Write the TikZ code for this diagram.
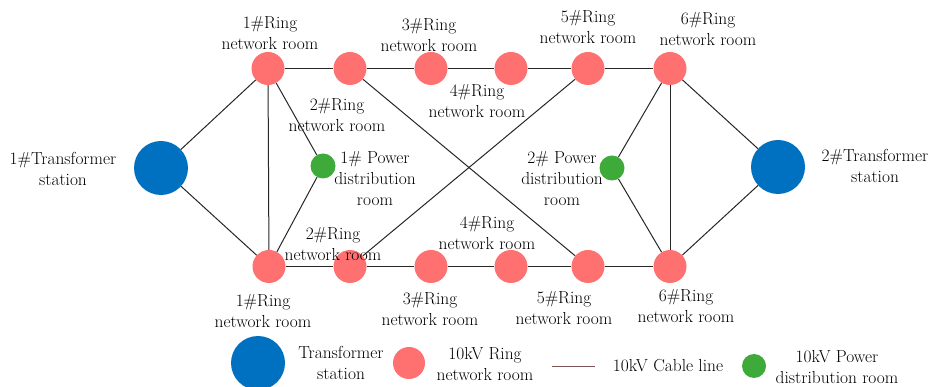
\documentclass[tikz,border=0pt]{standalone}
\definecolor{transc}{RGB}{0,112,192}
\definecolor{ringc}{RGB}{255,112,112}
\definecolor{pdc}{RGB}{62,170,58}
\definecolor{legline}{RGB}{125,85,85}
\begin{document}
\begin{tikzpicture}[x=1pt,y=-1pt,
  ring/.style={circle, fill=ringc, minimum size=33pt, inner sep=0pt},
  trans/.style={circle, fill=transc, minimum size=54pt, inner sep=0pt},
  pd/.style={circle, fill=pdc, minimum size=25pt, inner sep=0pt},
  lbl/.style={align=center, inner sep=0pt, font=\rmfamily\fontsize{17.4}{21}\selectfont},
  cable/.style={draw=black!85, line width=1pt}]
\useasboundingbox (0,0) rectangle (930,387);
% nodes
\node[trans] (T1) at (161,168) {};
\node[trans] (T2) at (778,167) {};
\node[ring] (R1t) at (268,68.5) {};
\node[ring] (R2t) at (350,68.5) {};
\node[ring] (R3t) at (431,68.5) {};
\node[ring] (R4t) at (511,68.5) {};
\node[ring] (R5t) at (588,68.5) {};
\node[ring] (R6t) at (670,68.5) {};
\node[ring] (R1b) at (269,266.5) {};
\node[ring] (R2b) at (350,266.5) {};
\node[ring] (R3b) at (431,266.5) {};
\node[ring] (R4b) at (511,266.5) {};
\node[ring] (R5b) at (588,266.5) {};
\node[ring] (R6b) at (670,266.5) {};
\node[pd] (G1) at (323,166) {};
\node[pd] (G2) at (612,168) {};
% edges
\draw[cable] (T1) -- (R1t);
\draw[cable] (T1) -- (R1b);
\draw[cable] (R1t) -- (R1b);
\draw[cable] (R1t) -- (G1);
\draw[cable] (G1) -- (R1b);
\draw[cable] (R1t) -- (R2t) -- (R3t) -- (R4t) -- (R5t) -- (R6t);
\draw[cable] (R1b) -- (R2b) -- (R3b) -- (R4b) -- (R5b) -- (R6b);
\draw[cable] (R2t) -- (R5b);
\draw[cable] (R5t) -- (R2b);
\draw[cable] (R6t) -- (G2);
\draw[cable] (G2) -- (R6b);
\draw[cable] (R6t) -- (R6b);
\draw[cable] (R6t) -- (T2);
\draw[cable] (R6b) -- (T2);
% labels
\node[lbl] (lR1t) at (270,33) {1\#Ring\\network room};
\node[lbl] (lR3t) at (429,35) {3\#Ring\\network room};
\node[lbl] (lR5t) at (588,27) {5\#Ring\\network room};
\node[lbl] (lR6t) at (708,29) {6\#Ring\\network room};
\node[lbl] (lR2t) at (337,115) {2\#Ring\\network room};
\node[lbl] (lR4t) at (477,101) {4\#Ring\\network room};
\node[lbl] (lT1) at (63,169) {1\#Transformer\\station};
\node[lbl] (lT2) at (875,166) {2\#Transformer\\station};
\node[lbl] (lG1) at (375,179) {1\# Power\\distribution\\room};
\node[lbl] (lG2) at (562,179) {2\# Power\\distribution\\room};
\node[lbl] (lR2b) at (333,244) {2\#Ring\\network room};
\node[lbl] (lR4b) at (487,233) {4\#Ring\\network room};
\node[lbl] (lR1b) at (263,311) {1\#Ring\\network room};
\node[lbl] (lR3b) at (430,309) {3\#Ring\\network room};
\node[lbl] (lR5b) at (564,308) {5\#Ring\\network room};
\node[lbl] (lR6b) at (686,306) {6\#Ring\\network room};
% legend
\node[trans] (LT) at (258,363) {};
\node[lbl] (LTt) at (341,363) {Transformer\\station};
\node[ring, minimum size=32pt] (LR) at (409,363) {};
\node[lbl] (LRt) at (485,364) {10kV Ring\\network room};
\coordinate (LLa) at (552,367);
\coordinate (LLb) at (595,367);
\draw[draw=legline, line width=1pt] (LLa) -- (LLb);
\node[lbl] (LLt) at (668,366) {10kV Cable line};
\node[pd, minimum size=24pt] (LG) at (754,366) {};
\node[lbl] (LGt) at (837,367) {10kV Power\\distribution room};
\end{tikzpicture}
\end{document}
